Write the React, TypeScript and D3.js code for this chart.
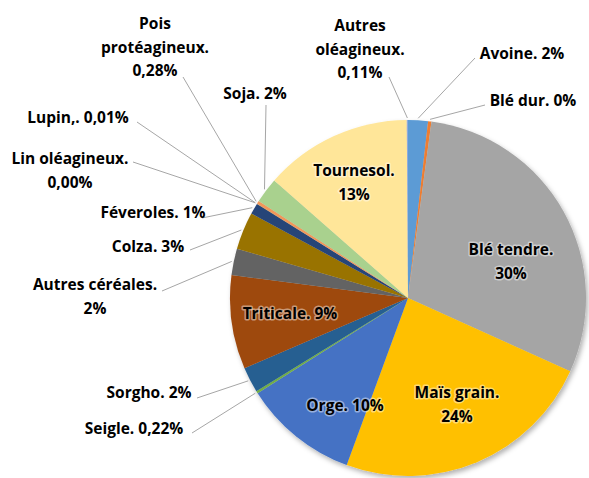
import React from "react";
import * as d3 from "d3";

// surfaces (share in %), clockwise from 12 o'clock
const categories = [
  "Avoine", "Blé dur", "Blé tendre", "Maïs grain", "Orge", "Seigle", "Sorgho",
  "Triticale", "Autres céréales", "Colza", "Féveroles", "Lin oléagineux",
  "Lupin,", "Pois protéagineux", "Soja", "Tournesol", "Autres oléagineux",
];
const shares = [
  1.8, 0.3, 29.6, 23.8, 10.4, 0.22, 2.3, 8.5, 2.4, 3.4, 1.0, 0.004, 0.01, 0.28,
  2.3, 13.4, 0.11,
];
// label text as printed on the chart
const labelLines = [
  ["Avoine. 2%"],
  ["Blé dur. 0%"],
  ["Blé tendre.", "30%"],
  ["Maïs grain.", "24%"],
  ["Orge. 10%"],
  ["Seigle. 0,22%"],
  ["Sorgho. 2%"],
  ["Triticale. 9%"],
  ["Autres céréales.", "2%"],
  ["Colza. 3%"],
  ["Féveroles. 1%"],
  ["Lin oléagineux.", "0,00%"],
  ["Lupin,. 0,01%"],
  ["Pois", "protéagineux.", "0,28%"],
  ["Soja. 2%"],
  ["Tournesol.", "13%"],
  ["Autres", "oléagineux.", "0,11%"],
];
const colors = [
  "#5B9BD5", "#ED7D31", "#A5A5A5", "#FFC000", "#4472C4", "#70AD47", "#255E91",
  "#9E480E", "#636363", "#997300", "#264478", "#43682B", "#7CAFDD", "#F1975A",
  "#A9D18E", "#FFE699", "#8FAADC",
];

// label placement: x,y = first baseline centre; lx,ly = leader start (outside labels only)
type Place = { x: number; y: number; lx?: number; ly?: number; inside?: boolean };
const placement: Place[] = [
  { x: 522, y: 59, lx: 475, ly: 58 },
  { x: 533, y: 106, lx: 485, ly: 105 },
  { x: 511, y: 255, inside: true },
  { x: 457, y: 398, inside: true },
  { x: 345, y: 411, inside: true },
  { x: 134, y: 434, lx: 192, ly: 433 },
  { x: 149, y: 398, lx: 197, ly: 398 },
  { x: 290, y: 319, inside: true },
  { x: 95, y: 290, lx: 162, ly: 291 },
  { x: 148, y: 252, lx: 190, ly: 250 },
  { x: 153, y: 218, lx: 202, ly: 218 },
  { x: 70, y: 164, lx: 133, ly: 162 },
  { x: 78, y: 123, lx: 137, ly: 122 },
  { x: 155, y: 29, lx: 183, ly: 77 },
  { x: 255, y: 99, lx: 266, ly: 105 },
  { x: 354, y: 176, inside: true },
  { x: 360, y: 31, lx: 389, ly: 77 },
];

const W = 589;
const H = 478;
const cx = 408;
const cy = 298;
const R = 178;
const lineH = 23.5;

export default function App() {
  const data = categories.map((name, i) => ({ name, value: shares[i], i }));
  const pie = d3.pie<any>().sort(null).value((d) => d.value).startAngle(0);
  const arcs = pie(data);
  const arc = d3.arc<any>().innerRadius(0).outerRadius(R);
  const edge = d3.arc<any>().innerRadius(R + 2).outerRadius(R + 2);

  return (
    <svg width={W} height={H} style={{ position: "absolute", left: 0, top: 0, background: "#fff" }}
      fontFamily="'Open Sans', sans-serif" fontWeight={700} fontSize={15.5}>
      <defs>
        <filter id="shadow" x="-10%" y="-10%" width="125%" height="125%">
          <feDropShadow dx="2" dy="3" stdDeviation="2.5" floodColor="#000" floodOpacity="0.3" />
        </filter>
      </defs>
      <g transform={`translate(${cx},${cy})`}>
        <g filter="url(#shadow)">
          {arcs.map((a) => (
            <path key={a.data.name} d={arc(a) || ""} fill={colors[a.data.i]} />
          ))}
        </g>
      </g>
      {arcs.map((a) => {
        const p = placement[a.data.i];
        if (p.inside || p.lx === undefined) return null;
        const [ex, ey] = edge.centroid(a);
        return (
          <polyline key={"l" + a.data.name}
            points={`${p.lx},${p.ly} ${cx + ex},${cy + ey}`}
            fill="none" stroke="#A6A6A6" strokeWidth={1} />
        );
      })}
      {arcs.map((a) => {
        const p = placement[a.data.i];
        const lines = labelLines[a.data.i];
        return (
          <text key={"t" + a.data.name} x={p.x} y={p.y} textAnchor="middle" fill="#000"
            stroke={p.inside ? "rgba(255,255,255,0.45)" : "none"} strokeWidth={p.inside ? 3 : 0}
            paintOrder="stroke" strokeLinejoin="round">
            {lines.map((ln, k) => (
              <tspan key={k} x={p.x} dy={k === 0 ? 0 : lineH}>{ln}</tspan>
            ))}
          </text>
        );
      })}
    </svg>
  );
}
